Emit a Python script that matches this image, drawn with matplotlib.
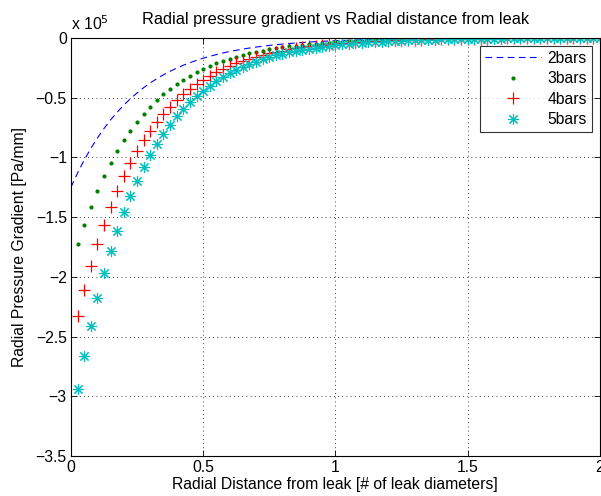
import numpy as np
import matplotlib
matplotlib.use("Agg")
import matplotlib.pyplot as plt
from matplotlib.ticker import FuncFormatter

plt.rcParams['font.family'] = ['Liberation Sans', 'DejaVu Sans']

# radial distance [# of leak diameters], sampled every 0.025
x_line = np.linspace(0.0, 2.0, 81)     # 2bars curve starts at 0
x_pts = np.linspace(0.025, 2.0, 80)    # marker series

# radial pressure gradient, units of 1e5 Pa/mm
grad_2bars = [-1.250, -1.131, -1.023, -0.926, -0.838, -0.758, -0.686, -0.621, -0.562, -0.508,
              -0.460, -0.416, -0.376, -0.341, -0.308, -0.279, -0.252, -0.228, -0.207, -0.187,
              -0.169, -0.153, -0.139, -0.125, -0.113, -0.103, -0.093, -0.084, -0.076, -0.069,
              -0.062, -0.056, -0.051, -0.046, -0.042, -0.038, -0.034, -0.031, -0.028, -0.025,
              -0.023, -0.021, -0.019, -0.017, -0.015, -0.014, -0.013, -0.011, -0.010, -0.009,
              -0.008, -0.008, -0.007, -0.006, -0.006, -0.005, -0.005, -0.004, -0.004, -0.003,
              -0.003, -0.003, -0.003, -0.002, -0.002, -0.002, -0.002, -0.002, -0.001, -0.001,
              -0.001, -0.001, -0.001, -0.001, -0.001, -0.001, -0.001, -0.001, -0.001, 0.000,
              0.000]
grad_3bars = [-1.728, -1.564, -1.415, -1.280, -1.158, -1.048, -0.948, -0.858, -0.777, -0.703,
              -0.636, -0.575, -0.521, -0.471, -0.426, -0.386, -0.349, -0.316, -0.286, -0.258,
              -0.234, -0.212, -0.191, -0.173, -0.157, -0.142, -0.128, -0.116, -0.105, -0.095,
              -0.086, -0.078, -0.070, -0.064, -0.058, -0.052, -0.047, -0.043, -0.039, -0.035,
              -0.032, -0.029, -0.026, -0.023, -0.021, -0.019, -0.017, -0.016, -0.014, -0.013,
              -0.012, -0.011, -0.010, -0.009, -0.008, -0.007, -0.006, -0.006, -0.005, -0.005,
              -0.004, -0.004, -0.003, -0.003, -0.003, -0.003, -0.002, -0.002, -0.002, -0.002,
              -0.002, -0.001, -0.001, -0.001, -0.001, -0.001, -0.001, -0.001, -0.001, -0.001]
grad_4bars = [-2.330, -2.108, -1.908, -1.726, -1.562, -1.413, -1.279, -1.157, -1.047, -0.947,
              -0.857, -0.776, -0.702, -0.635, -0.575, -0.520, -0.470, -0.426, -0.385, -0.348,
              -0.315, -0.285, -0.258, -0.234, -0.211, -0.191, -0.173, -0.157, -0.142, -0.128,
              -0.116, -0.105, -0.095, -0.086, -0.078, -0.070, -0.064, -0.058, -0.052, -0.047,
              -0.043, -0.039, -0.035, -0.032, -0.029, -0.026, -0.023, -0.021, -0.019, -0.017,
              -0.016, -0.014, -0.013, -0.012, -0.011, -0.010, -0.009, -0.008, -0.007, -0.006,
              -0.006, -0.005, -0.005, -0.004, -0.004, -0.003, -0.003, -0.003, -0.003, -0.002,
              -0.002, -0.002, -0.002, -0.002, -0.001, -0.001, -0.001, -0.001, -0.001, -0.001]
grad_5bars = [-2.941, -2.661, -2.408, -2.178, -1.971, -1.784, -1.614, -1.460, -1.321, -1.196,
              -1.082, -0.979, -0.886, -0.801, -0.725, -0.656, -0.594, -0.537, -0.486, -0.440,
              -0.398, -0.360, -0.326, -0.295, -0.267, -0.241, -0.218, -0.198, -0.179, -0.162,
              -0.146, -0.132, -0.120, -0.108, -0.098, -0.089, -0.080, -0.073, -0.066, -0.060,
              -0.054, -0.049, -0.044, -0.040, -0.036, -0.033, -0.030, -0.027, -0.024, -0.022,
              -0.020, -0.018, -0.016, -0.015, -0.013, -0.012, -0.011, -0.010, -0.009, -0.008,
              -0.007, -0.007, -0.006, -0.005, -0.005, -0.004, -0.004, -0.004, -0.003, -0.003,
              -0.003, -0.002, -0.002, -0.002, -0.002, -0.002, -0.001, -0.001, -0.001, -0.001]

labels = ['2bars', '3bars', '4bars', '5bars']

fig = plt.figure(figsize=(6.01, 4.96), dpi=100)
ax = fig.add_axes([0.118, 0.0806, 0.880, 0.8428])

ax.plot(x_line, grad_2bars, '--', color=(0, 0, 1), lw=0.8, dashes=(6, 4), label=labels[0])
ax.plot(x_pts, grad_3bars, '.', color=(0, 0.5, 0), ms=4, label=labels[1])
ax.plot(x_pts, grad_4bars, '+', color=(1, 0, 0), ms=9, mew=0.9, label=labels[2])
ax.plot(x_pts, grad_5bars, marker=(8, 2, 0), ls='none', color=(0, 0.75, 0.75),
        ms=8, mew=0.8, label=labels[3])

ax.set_xlim(0, 2)
ax.set_ylim(-3.5, 0)
ax.set_xticks([0, 0.5, 1, 1.5, 2])
ax.set_yticks(np.arange(-3.5, 0.01, 0.5))
fmt = FuncFormatter(lambda v, p: ('%g' % v).replace('-', '\u2212'))
ax.xaxis.set_major_formatter(fmt)
ax.yaxis.set_major_formatter(fmt)
ax.tick_params(direction='in', length=4, width=0.6, labelsize=11.3, top=True, right=True, pad=3)
ax.grid(True, color='black', ls=(0, (1, 4)), lw=0.6)
for s in ax.spines.values():
    s.set_linewidth(0.8)

ax.set_title('Radial pressure gradient vs Radial distance from leak', fontsize=11.7, pad=10)
ax.set_xlabel('Radial Distance from leak [# of leak diameters]', fontsize=11.3, labelpad=1)
ax.set_ylabel('Radial Pressure Gradient [Pa/mm]', fontsize=11.3, labelpad=6)
ax.text(0.0, 1.012, 'x 10$^5$', transform=ax.transAxes, fontsize=11.3, ha='left', va='bottom')

leg = ax.legend(loc='upper right', fontsize=11.3, frameon=True, fancybox=False,
                edgecolor='black', borderpad=0.3, labelspacing=0.35, handlelength=3.6,
                handletextpad=0.4, borderaxespad=0.5)
leg.get_frame().set_linewidth(0.8)

fig.savefig('out.png', dpi=100)
